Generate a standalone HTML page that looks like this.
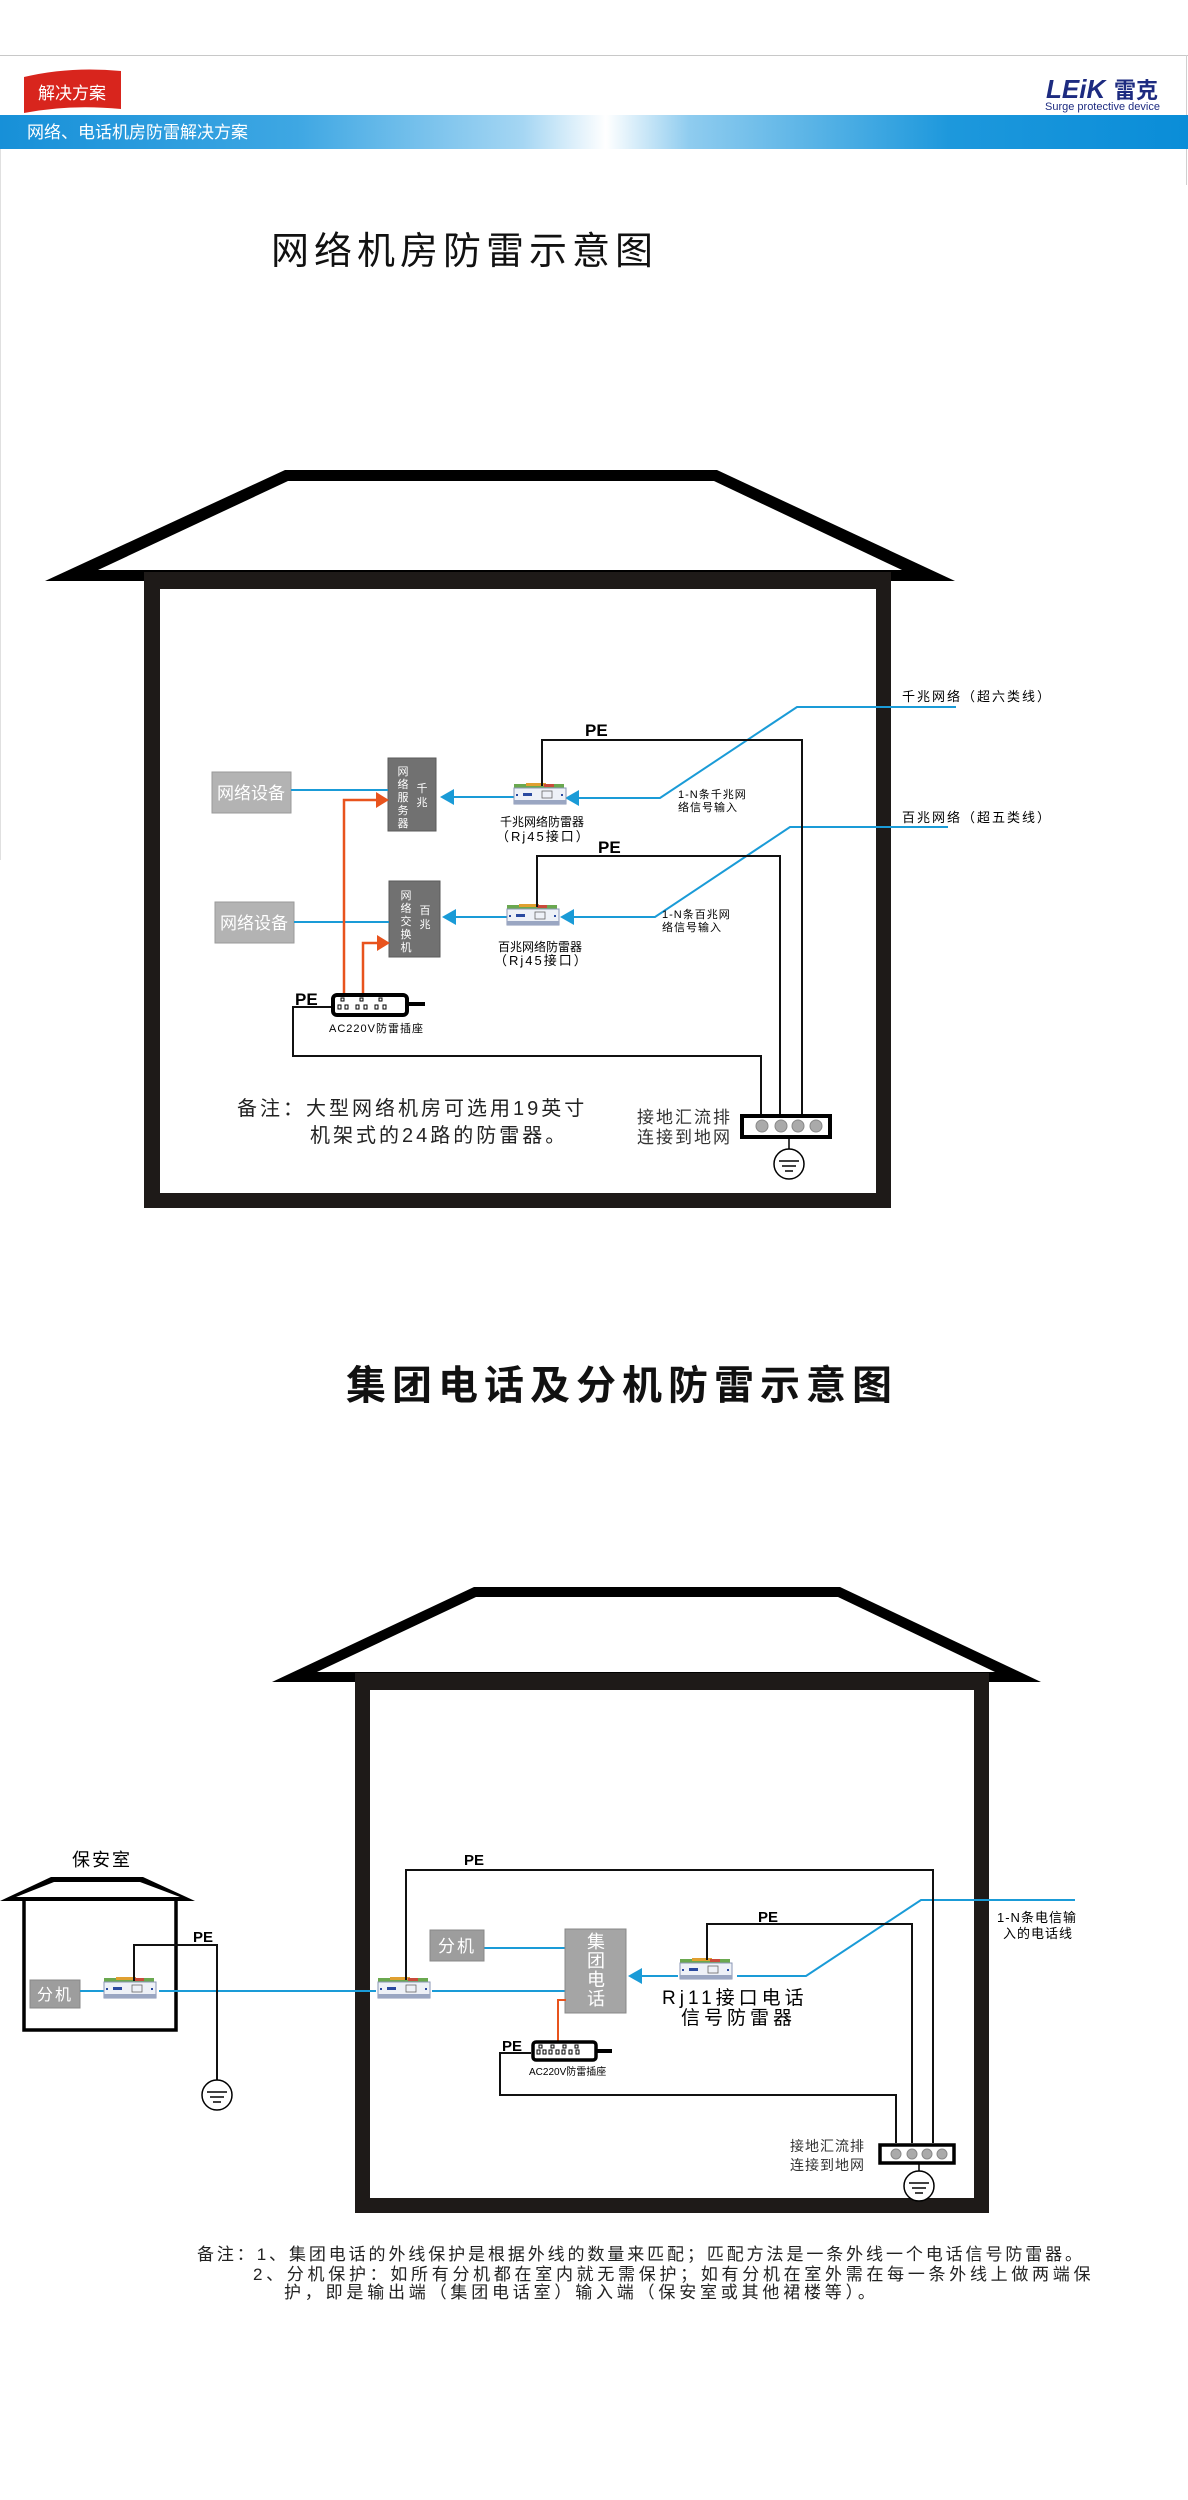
<!DOCTYPE html>
<html><head><meta charset="utf-8"><style>
body{margin:0;background:#fff}
svg{display:block}
text{font-family:"Liberation Sans","Noto Sans CJK SC",sans-serif}
</style></head><body>
<svg width="1188" height="2500" viewBox="0 0 1188 2500" xmlns="http://www.w3.org/2000/svg">
<defs>
<linearGradient id="band" x1="0" x2="1" y1="0" y2="0">
<stop offset="0" stop-color="#1790d8"/><stop offset="0.25" stop-color="#3ea7e3"/><stop offset="0.44" stop-color="#a5d6f3"/><stop offset="0.51" stop-color="#ffffff"/><stop offset="0.58" stop-color="#8fccef"/><stop offset="0.8" stop-color="#1d98dc"/><stop offset="1" stop-color="#0a8dd8"/>
</linearGradient>
<g id="dev">
<rect x="0" y="-4" width="50" height="5" fill="#6aa84f"/><rect x="12" y="-5" width="20" height="3" fill="#e0a030"/><rect x="30" y="-4" width="10" height="3" fill="#c94a3a"/>
<rect x="0" y="0" width="52" height="16" fill="#eef1f7" stroke="#8a96b4" stroke-width="1"/>
<rect x="0" y="12" width="52" height="4" fill="#9aa6c2"/>
<rect x="9" y="5" width="9" height="3" fill="#2a4aa0"/><rect x="28" y="3" width="10" height="7" fill="none" stroke="#666" stroke-width="0.8"/>
<rect x="2" y="6" width="2" height="2" fill="#2a4aa0"/><rect x="47" y="6" width="2" height="2" fill="#2a4aa0"/>
</g>
<g id="gnd">
<circle cx="0" cy="0" r="15" fill="#fff" stroke="#000" stroke-width="1.5"/>
<line x1="-10" y1="-3" x2="10" y2="-3" stroke="#000" stroke-width="1.5"/><line x1="-7" y1="2" x2="7" y2="2" stroke="#000" stroke-width="1.5"/><line x1="-4" y1="7" x2="4" y2="7" stroke="#000" stroke-width="1.5"/>
</g>
</defs>

<!-- header -->
<line x1="0" y1="55.5" x2="1188" y2="55.5" stroke="#c8c8c8" stroke-width="1"/>
<line x1="1186.5" y1="55" x2="1186.5" y2="185" stroke="#d0d0d0" stroke-width="1"/>
<line x1="0.5" y1="148" x2="0.5" y2="860" stroke="#e0e0e0" stroke-width="1"/>
<path d="M24 77 Q70 66 121 71 L121 109 Q70 104 24 113 Z" fill="#d8251d"/>
<text x="72" y="99" font-size="17" fill="#fff" text-anchor="middle">解决方案</text>
<text x="1046" y="98" font-size="26" font-weight="bold" font-style="italic" fill="#1d2b80">LEiK</text>
<text x="1114" y="98" font-size="22" font-weight="bold" fill="#1d2b80">雷克</text>
<text x="1045" y="110" font-size="11" fill="#1d2b80" font-family="Liberation Serif,serif">Surge protective device</text>
<rect x="0" y="115" width="1188" height="34" fill="url(#band)"/>
<text x="27" y="138" font-size="17" fill="#fff">网络、电话机房防雷解决方案</text>

<!-- title 1 -->
<text x="271" y="264" font-size="38" letter-spacing="5" fill="#111">网络机房防雷示意图</text>

<!-- house 1 -->
<path d="M285 470 L717 470 L955 581 L45 581 Z" fill="#000"/>
<polygon points="288,481 714,481 902,570 98,570" fill="#fff"/>
<path d="M144 572 H891 V1208 H144 Z M160 589 V1193 H876 V589 Z" fill="#1e1a18" fill-rule="evenodd"/>

<!-- boxes -->
<rect x="212" y="772" width="79" height="41" fill="#b3b3b3" stroke="#999"/>
<text x="251" y="799" font-size="17" fill="#fff" text-anchor="middle">网络设备</text>
<rect x="215" y="902" width="79" height="41" fill="#b3b3b3" stroke="#999"/>
<text x="254" y="929" font-size="17" fill="#fff" text-anchor="middle">网络设备</text>
<rect x="388" y="758" width="48" height="73" fill="#717171" stroke="#5a5a5a"/>
<g font-size="11" fill="#fff" text-anchor="middle">
<text x="403" y="775">网</text><text x="403" y="788">络</text><text x="403" y="801">服</text><text x="403" y="814">务</text><text x="403" y="827">器</text>
<text x="422" y="792">千</text><text x="422" y="806">兆</text>
</g>
<rect x="389" y="881" width="51" height="76" fill="#717171" stroke="#5a5a5a"/>
<g font-size="11" fill="#fff" text-anchor="middle">
<text x="406" y="899">网</text><text x="406" y="912">络</text><text x="406" y="925">交</text><text x="406" y="938">换</text><text x="406" y="951">机</text>
<text x="425" y="914">百</text><text x="425" y="928">兆</text>
</g>

<!-- blue lines diag1 -->
<g stroke="#1a9bd7" stroke-width="2" fill="none">
<line x1="291" y1="790" x2="388" y2="790"/>
<line x1="294" y1="922" x2="389" y2="922"/>
<line x1="452" y1="797" x2="514" y2="797"/>
<polyline points="576,798 660,798 797,707 956,707"/>
<line x1="454" y1="917" x2="507" y2="917"/>
<polyline points="572,917 655,917 790,827 948,827"/>
</g>
<g fill="#1a9bd7">
<polygon points="440,797 454,789 454,805"/>
<polygon points="565,798 579,790 579,806"/>
<polygon points="442,917 456,909 456,925"/>
<polygon points="560,917 574,909 574,925"/>
</g>
<use href="#dev" x="514" y="788"/>
<use href="#dev" x="507" y="909"/>

<!-- PE lines diag1 -->
<g stroke="#111" stroke-width="2" fill="none">
<polyline points="542,786 542,740 802,740 802,1115"/>
<polyline points="537,907 537,856 780,856 780,1115"/>
<polyline points="331,1007 293,1007 293,1056 761,1056 761,1115"/>
</g>
<text x="585" y="736" font-size="17" font-weight="bold">PE</text>
<text x="598" y="853" font-size="17" font-weight="bold">PE</text>
<text x="295" y="1005" font-size="17" font-weight="bold">PE</text>

<!-- orange -->
<g stroke="#e8531d" stroke-width="2.5" fill="none">
<polyline points="344,1000 344,800 378,800"/>
<polyline points="363,1000 363,943 379,943"/>
</g>
<g fill="#e8531d"><polygon points="389,800 376,792 376,808"/><polygon points="390,943 377,935 377,951"/></g>

<!-- power strip 1 -->
<rect x="333" y="995" width="74" height="20" rx="4" fill="#fff" stroke="#000" stroke-width="4"/>
<line x1="407" y1="1004" x2="425" y2="1004" stroke="#000" stroke-width="4"/>
<g fill="#fff" stroke="#000" stroke-width="1">
<rect x="341" y="998" width="3" height="3"/><rect x="360" y="998" width="3" height="3"/><rect x="379" y="998" width="3" height="3"/>
<rect x="338" y="1005" width="3" height="4"/><rect x="345" y="1005" width="3" height="4"/><rect x="356" y="1005" width="3" height="4"/><rect x="364" y="1005" width="3" height="4"/><rect x="375" y="1005" width="3" height="4"/><rect x="383" y="1005" width="3" height="4"/>
</g>
<text x="329" y="1032" font-size="11" letter-spacing="1">AC220V防雷插座</text>

<!-- labels diag1 -->
<text x="500" y="826" font-size="12">千兆网络防雷器</text>
<text x="496" y="841" font-size="13" letter-spacing="2">（Rj45接口）</text>
<text x="498" y="951" font-size="12">百兆网络防雷器</text>
<text x="494" y="965" font-size="13" letter-spacing="2">（Rj45接口）</text>
<text x="678" y="798" font-size="11" letter-spacing="1">1-N条千兆网</text>
<text x="678" y="811" font-size="11" letter-spacing="1">络信号输入</text>
<text x="662" y="918" font-size="11" letter-spacing="1">1-N条百兆网</text>
<text x="662" y="931" font-size="11" letter-spacing="1">络信号输入</text>
<text x="902" y="701" font-size="13" letter-spacing="2">千兆网络（超六类线）</text>
<text x="902" y="822" font-size="13" letter-spacing="2">百兆网络（超五类线）</text>

<!-- bus 1 -->
<rect x="742" y="1116" width="88" height="21" fill="#fff" stroke="#000" stroke-width="4"/>
<g fill="#aaa" stroke="#888"><circle cx="762" cy="1126" r="6"/><circle cx="781" cy="1126" r="6"/><circle cx="798" cy="1126" r="6"/><circle cx="816" cy="1126" r="6"/></g>
<line x1="789" y1="1139" x2="789" y2="1150" stroke="#000" stroke-width="1.5"/>
<use href="#gnd" x="789" y="1164"/>
<text x="637" y="1123" font-size="17" letter-spacing="2" fill="#333" font-family="Liberation Serif,Noto Serif CJK SC,serif">接地汇流排</text>
<text x="637" y="1143" font-size="17" letter-spacing="2" fill="#333" font-family="Liberation Serif,Noto Serif CJK SC,serif">连接到地网</text>
<text x="237" y="1115" font-size="20" letter-spacing="3" fill="#222" font-family="Liberation Serif,Noto Serif CJK SC,serif">备注：大型网络机房可选用19英寸</text>
<text x="310" y="1142" font-size="20" letter-spacing="3" fill="#222" font-family="Liberation Serif,Noto Serif CJK SC,serif">机架式的24路的防雷器。</text>

<!-- title 2 -->
<text x="346" y="1399" font-size="40" font-weight="bold" letter-spacing="6" fill="#111">集团电话及分机防雷示意图</text>

<!-- house 2 -->
<path d="M474 1587 L840 1587 L1041 1682 L272 1682 Z" fill="#000"/>
<polygon points="476,1597 838,1597 995,1672 317,1672" fill="#fff"/>
<path d="M355 1673 H989 V2213 H355 Z M370 1690 V2198 H974 V1690 Z" fill="#1e1a18" fill-rule="evenodd"/>

<!-- small house -->
<polygon points="51,1877 143,1877 195,1901 0,1901" fill="#000"/>
<polygon points="54,1882 140,1882 180,1897 16,1897" fill="#fff"/>
<rect x="24" y="1899" width="152" height="131" fill="none" stroke="#000" stroke-width="3.5"/>
<text x="72" y="1866" font-size="18" letter-spacing="2">保安室</text>
<rect x="30" y="1980" width="50" height="28" fill="#9d9d9d" stroke="#888"/>
<text x="55" y="2000" font-size="16" fill="#fff" text-anchor="middle" letter-spacing="2">分机</text>

<!-- diag2 blue -->
<g stroke="#1a9bd7" stroke-width="2" fill="none">
<line x1="80" y1="1991" x2="104" y2="1991"/>
<line x1="159" y1="1991" x2="376" y2="1991"/>
<line x1="432" y1="1991" x2="565" y2="1991"/>
<line x1="484" y1="1948" x2="565" y2="1948"/>
<line x1="640" y1="1976" x2="678" y2="1976"/>
<polyline points="737,1976 806,1976 921,1900 1075,1900"/>
</g>
<polygon points="628,1976 642,1968 642,1984" fill="#1a9bd7"/>
<use href="#dev" x="104" y="1982"/>
<use href="#dev" x="378" y="1982"/>
<use href="#dev" x="680" y="1963"/>

<rect x="430" y="1930" width="54" height="31" fill="#9d9d9d" stroke="#888"/>
<text x="457" y="1952" font-size="17" fill="#fff" text-anchor="middle" letter-spacing="2">分机</text>
<rect x="565" y="1929" width="61" height="84" fill="#a5a5a5" stroke="#888"/>
<g font-size="18" fill="#fff" text-anchor="middle">
<text x="596" y="1948">集</text><text x="596" y="1967">团</text><text x="596" y="1986">电</text><text x="596" y="2005">话</text>
</g>

<!-- PE diag2 -->
<g stroke="#111" stroke-width="2" fill="none">
<polyline points="134,1981 134,1945 217,1945 217,2081"/>
<polyline points="406,1980 406,1870 933,1870 933,2143"/>
<polyline points="707,1960 707,1924 912,1924 912,2143"/>
<polyline points="531,2053 500,2053 500,2095 896,2095 896,2143"/>
</g>
<use href="#gnd" x="217" y="2095"/>
<text x="193" y="1942" font-size="15" font-weight="bold">PE</text>
<text x="464" y="1865" font-size="15" font-weight="bold">PE</text>
<text x="758" y="1922" font-size="15" font-weight="bold">PE</text>
<text x="502" y="2051" font-size="15" font-weight="bold">PE</text>

<polyline points="566,2000 558,2000 558,2043" stroke="#e8531d" stroke-width="2" fill="none"/>
<rect x="533" y="2042" width="63" height="18" rx="3" fill="#fff" stroke="#000" stroke-width="3.5"/>
<line x1="596" y1="2051" x2="612" y2="2051" stroke="#000" stroke-width="4"/>
<g fill="#fff" stroke="#000" stroke-width="1">
<rect x="539" y="2045" width="3" height="3"/><rect x="551" y="2045" width="3" height="3"/><rect x="563" y="2045" width="3" height="3"/><rect x="575" y="2045" width="3" height="3"/>
<rect x="537" y="2050" width="3" height="4"/><rect x="543" y="2050" width="3" height="4"/><rect x="549" y="2050" width="3" height="4"/><rect x="556" y="2050" width="3" height="4"/><rect x="562" y="2050" width="3" height="4"/><rect x="569" y="2050" width="3" height="4"/><rect x="576" y="2050" width="3" height="4"/>
</g>
<text x="529" y="2075" font-size="10">AC220V防雷插座</text>

<text x="662" y="2004" font-size="19" letter-spacing="4">Rj11接口电话</text>
<text x="681" y="2024" font-size="19" letter-spacing="4">信号防雷器</text>
<text x="997" y="1922" font-size="13" letter-spacing="1">1-N条电信输</text>
<text x="1003" y="1938" font-size="13" letter-spacing="1">入的电话线</text>

<!-- bus 2 -->
<rect x="880" y="2145" width="74" height="18" fill="#fff" stroke="#000" stroke-width="3.5"/>
<g fill="#aaa" stroke="#888"><circle cx="896" cy="2154" r="5"/><circle cx="912" cy="2154" r="5"/><circle cx="927" cy="2154" r="5"/><circle cx="942" cy="2154" r="5"/></g>
<line x1="919" y1="2164" x2="919" y2="2174" stroke="#000" stroke-width="1.5"/>
<use href="#gnd" x="919" y="2186"/>
<text x="790" y="2151" font-size="14" letter-spacing="1" fill="#333" font-family="Liberation Serif,Noto Serif CJK SC,serif">接地汇流排</text>
<text x="790" y="2170" font-size="14" letter-spacing="1" fill="#333" font-family="Liberation Serif,Noto Serif CJK SC,serif">连接到地网</text>

<!-- notes -->
<g font-size="17" fill="#222">
<text x="197" y="2260" letter-spacing="2.9">备注：1、集团电话的外线保护是根据外线的数量来匹配；匹配方法是一条外线一个电话信号防雷器。</text>
<text x="253" y="2280" letter-spacing="3.7">2、分机保护：如所有分机都在室内就无需保护；如有分机在室外需在每一条外线上做两端保</text>
<text x="284" y="2298" letter-spacing="3.8">护，即是输出端（集团电话室）输入端（保安室或其他裙楼等）。</text>
</g>
</svg>
</body></html>
